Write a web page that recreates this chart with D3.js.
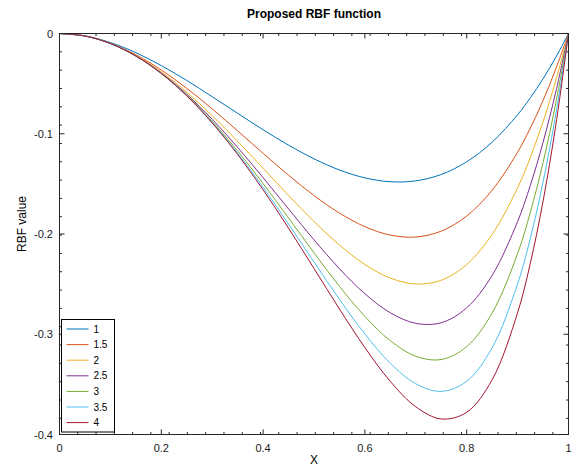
<!DOCTYPE html>
<html>
<head>
<meta charset="utf-8">
<script src="https://cdn.jsdelivr.net/npm/d3@7"></script>
<style>
  body { margin: 0; background: #fff; }
  text { font-family: "Liberation Sans", Arial, sans-serif; }
</style>
</head>
<body>
<div id="chart"></div>
<script>
var W = 573, H = 467;
var plotLeft = 59.5, plotRight = 568.5, plotTop = 33.5, plotBottom = 434.5;

var xs = [0, 0.05, 0.1, 0.15, 0.2, 0.25, 0.3, 0.35, 0.4, 0.45, 0.5, 0.55, 0.6, 0.65, 0.7, 0.75, 0.8, 0.85, 0.9, 0.925, 0.95, 0.975, 1];

var seriesNames = ["1", "1.5", "2", "2.5", "3", "3.5", "4"];
var colors = ["#0072BD", "#D95319", "#EDB120", "#7E2F8E", "#77AC30", "#4DBEEE", "#A2142F"];

var y1   = [0, -0.00238, -0.0090, -0.01913, -0.0320, -0.04688, -0.0630, -0.07963, -0.0960, -0.11138, -0.1250, -0.13613, -0.1440, -0.14788, -0.1470, -0.14063, -0.1280, -0.10838, -0.0810, -0.06417, -0.04513, -0.02377, 0];
var y15  = [0, -0.00247, -0.00968, -0.02119, -0.03642, -0.05469, -0.07521, -0.09714, -0.11952, -0.14137, -0.16161, -0.17911, -0.19269, -0.20109, -0.20303, -0.19715, -0.18205, -0.15631, -0.11841, -0.09443, -0.06684, -0.03542, 0];
var y2   = [0, -0.00249, -0.0099, -0.02199, -0.0384, -0.05859, -0.0819, -0.10749, -0.1344, -0.16149, -0.1875, -0.21099, -0.2304, -0.24399, -0.2499, -0.24609, -0.2304, -0.20049, -0.1539, -0.12353, -0.08799, -0.04694, 0];
var y25  = [0, -0.0025, -0.00997, -0.0223, -0.03928, -0.06055, -0.08556, -0.11362, -0.14381, -0.17499, -0.20581, -0.23464, -0.25961, -0.27858, -0.28912, -0.28848, -0.27364, -0.24123, -0.18757, -0.15152, -0.10862, -0.05831, 0];
var y3   = [0, -0.0025, -0.00999, -0.02242, -0.03968, -0.06152, -0.08757, -0.11725, -0.14976, -0.18405, -0.21875, -0.25217, -0.28224, -0.30647, -0.32193, -0.3252, -0.31232, -0.2788, -0.21951, -0.17844, -0.12872, -0.06953, 0];
var y35  = [0, -0.0025, -0.01, -0.02247, -0.03986, -0.06201, -0.08867, -0.11939, -0.15352, -0.19012, -0.2279, -0.26518, -0.29977, -0.32895, -0.34938, -0.35699, -0.34691, -0.31342, -0.24981, -0.20433, -0.14831, -0.08061, 0];
var y4   = [0, -0.0025, -0.01, -0.02249, -0.03994, -0.06226, -0.08927, -0.12066, -0.1559, -0.1942, -0.23438, -0.27482, -0.31334, -0.34708, -0.37235, -0.38452, -0.37786, -0.34535, -0.27856, -0.22923, -0.16741, -0.09156, 0];
var seriesValues = [y1, y15, y2, y25, y3, y35, y4];

var xTicks = [0, 0.2, 0.4, 0.6, 0.8, 1];
var yTicks = [0, -0.1, -0.2, -0.3, -0.4];

var svg = d3.select("#chart").append("svg")
    .attr("width", W)
    .attr("height", H);

var x = d3.scaleLinear().domain([0, 1]).range([plotLeft, plotRight]);
var y = d3.scaleLinear().domain([-0.4, 0]).range([plotBottom, plotTop]);

var axisColor = "#262626";

// minor ticks (evenly spaced from the top-left corner)
var xMinor = d3.range(0, 1.0001, 0.0359);
var yMinor = d3.range(0, -0.4001, -0.01828);

var g = svg.append("g");

xMinor.forEach(function (v) {
    g.append("line").attr("x1", x(v)).attr("x2", x(v)).attr("y1", plotBottom).attr("y2", plotBottom - 2.5);
    g.append("line").attr("x1", x(v)).attr("x2", x(v)).attr("y1", plotTop).attr("y2", plotTop + 2.5);
});
yMinor.forEach(function (v) {
    g.append("line").attr("y1", y(v)).attr("y2", y(v)).attr("x1", plotLeft).attr("x2", plotLeft + 2.5);
    g.append("line").attr("y1", y(v)).attr("y2", y(v)).attr("x1", plotRight).attr("x2", plotRight - 2.5);
});
xTicks.forEach(function (v) {
    g.append("line").attr("x1", x(v)).attr("x2", x(v)).attr("y1", plotBottom).attr("y2", plotBottom - 5);
    g.append("line").attr("x1", x(v)).attr("x2", x(v)).attr("y1", plotTop).attr("y2", plotTop + 5);
});
yTicks.forEach(function (v) {
    g.append("line").attr("y1", y(v)).attr("y2", y(v)).attr("x1", plotLeft).attr("x2", plotLeft + 5);
    g.append("line").attr("y1", y(v)).attr("y2", y(v)).attr("x1", plotRight).attr("x2", plotRight - 5);
});
g.selectAll("line").attr("stroke", axisColor).attr("stroke-width", 1);

// curves
var line = d3.line()
    .x(function (d) { return x(d[0]); })
    .y(function (d) { return y(d[1]); })
    .curve(d3.curveCatmullRom.alpha(0.5));

seriesValues.forEach(function (vals, i) {
    svg.append("path")
        .datum(xs.map(function (xv, j) { return [xv, vals[j]]; }))
        .attr("fill", "none")
        .attr("stroke", colors[i])
        .attr("stroke-width", 1)
        .attr("d", line);
});

// box
svg.append("rect")
    .attr("x", plotLeft).attr("y", plotTop)
    .attr("width", plotRight - plotLeft).attr("height", plotBottom - plotTop)
    .attr("fill", "none")
    .attr("stroke", axisColor)
    .attr("stroke-width", 1);

// tick labels (plain hyphen minus, like the original)
svg.selectAll(".xlab").data(xTicks).enter().append("text")
    .attr("x", function (d) { return x(d); })
    .attr("y", 452)
    .attr("text-anchor", "middle")
    .style("font-size", "11px")
    .attr("fill", "#1a1a1a")
    .text(function (d) { return String(d); });

svg.selectAll(".ylab").data(yTicks).enter().append("text")
    .attr("x", 53)
    .attr("y", function (d) { return y(d) + 4; })
    .attr("text-anchor", "end")
    .style("font-size", "11px")
    .attr("fill", "#1a1a1a")
    .text(function (d) { return String(d); });

// title and labels
svg.append("text")
    .attr("x", (plotLeft + plotRight) / 2)
    .attr("y", 18)
    .attr("text-anchor", "middle")
    .style("font-size", "12px")
    .style("font-weight", "bold")
    .text("Proposed RBF function");

svg.append("text")
    .attr("x", (plotLeft + plotRight) / 2)
    .attr("y", 464)
    .attr("text-anchor", "middle")
    .style("font-size", "12px")
    .text("X");

svg.append("text")
    .attr("transform", "translate(26," + ((plotTop + plotBottom) / 2 - 10) + ") rotate(-90)")
    .attr("text-anchor", "middle")
    .style("font-size", "12px")
    .text("RBF value");

// legend
var leg = svg.append("g").attr("transform", "translate(61.5,319.5)");
leg.append("rect")
    .attr("width", 53).attr("height", 112.5)
    .attr("fill", "#fff")
    .attr("stroke", "#000")
    .attr("stroke-width", 1);
seriesNames.forEach(function (name, i) {
    var yy = 9.5 + i * 15.6;
    leg.append("line")
        .attr("x1", 5).attr("x2", 27)
        .attr("y1", yy).attr("y2", yy)
        .attr("stroke", colors[i])
        .attr("stroke-width", 1);
    leg.append("text")
        .attr("x", 32)
        .attr("y", yy + 3.5)
        .style("font-size", "10px")
        .text(name);
});
</script>
</body>
</html>
